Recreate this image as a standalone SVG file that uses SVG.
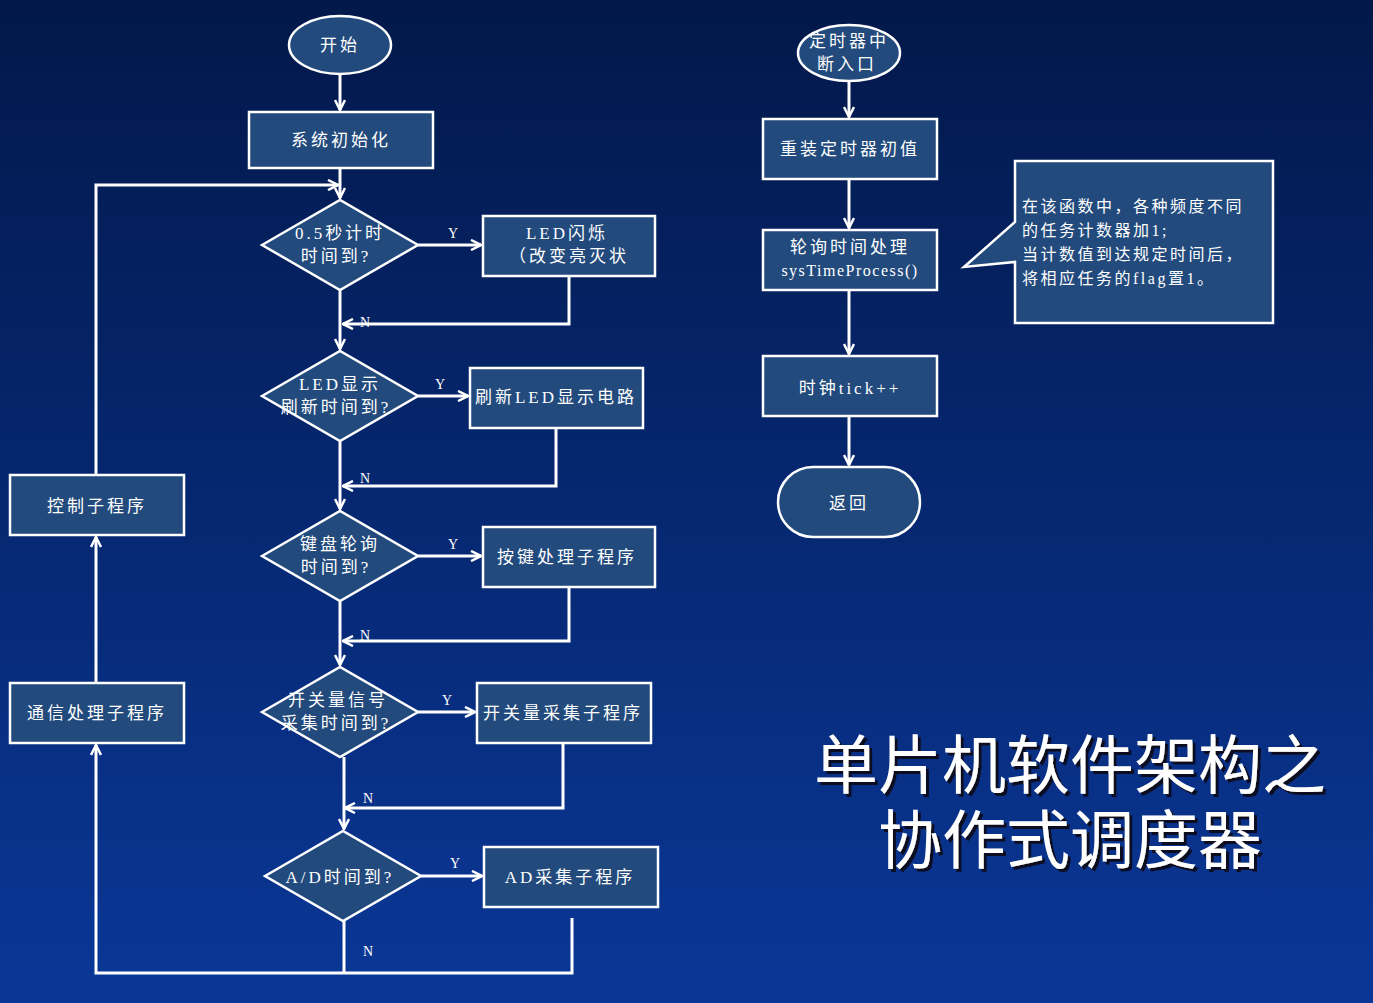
<svg xmlns="http://www.w3.org/2000/svg" width="1373" height="1003" viewBox="0 0 1373 1003">
<defs>
<linearGradient id="bg" x1="0" y1="0" x2="0" y2="1"><stop offset="0" stop-color="#02184a"/><stop offset="1" stop-color="#0a3797"/></linearGradient>
<marker id="ar" viewBox="0 0 12 12" refX="11" refY="6" markerWidth="12" markerHeight="12" markerUnits="userSpaceOnUse" orient="auto"><path d="M1,1 L11,6 L1,11" fill="none" stroke="#fff" stroke-width="2.5"/></marker>
<filter id="sh" x="-10%" y="-20%" width="120%" height="140%"><feDropShadow dx="3" dy="3" stdDeviation="0.5" flood-color="#0a1020" flood-opacity="1"/></filter>
</defs>
<style>
.n{fill:#224a7d;stroke:#fff;stroke-width:2.5}
.t{fill:#fff;font-family:"Liberation Serif","Noto Sans CJK SC",serif;font-size:17px;letter-spacing:3px;text-anchor:middle}
.l{fill:#fff;font-family:"Liberation Serif",serif;font-size:14px}
#c path{fill:none;stroke:#fff;stroke-width:3}
.big{fill:#fff;font-family:"Noto Sans CJK SC",sans-serif;font-size:64px;text-anchor:middle}
</style>
<rect width="1373" height="1003" fill="url(#bg)"/>
<g id="c">
<path d="M340,74V110" marker-end="url(#ar)"/>
<path d="M340,168V198" marker-end="url(#ar)"/>
<path d="M418,245H481" marker-end="url(#ar)"/>
<path d="M340,290V349" marker-end="url(#ar)"/>
<path d="M569,276V324H343" marker-end="url(#ar)"/>
<path d="M418,396H468" marker-end="url(#ar)"/>
<path d="M340,441V509" marker-end="url(#ar)"/>
<path d="M556,428V486H343" marker-end="url(#ar)"/>
<path d="M418,556H481" marker-end="url(#ar)"/>
<path d="M340,601V665" marker-end="url(#ar)"/>
<path d="M569,587V641H343" marker-end="url(#ar)"/>
<path d="M418,712H475" marker-end="url(#ar)"/>
<path d="M344,757V829" marker-end="url(#ar)"/>
<path d="M563,743V808H345" marker-end="url(#ar)"/>
<path d="M421,876H482" marker-end="url(#ar)"/>
<path d="M344,921V973"/>
<path d="M572,918V973H96V745" marker-end="url(#ar)"/>
<path d="M96,683V537" marker-end="url(#ar)"/>
<path d="M96,475V185H338" marker-end="url(#ar)"/>
<path d="M849,81V117" marker-end="url(#ar)"/>
<path d="M849,179V228" marker-end="url(#ar)"/>
<path d="M849,290V354" marker-end="url(#ar)"/>
<path d="M849,416V465" marker-end="url(#ar)"/>
</g>
<g id="labels">
<text class="l" x="448" y="238">Y</text><text class="l" x="360" y="327">N</text>
<text class="l" x="435" y="389">Y</text><text class="l" x="360" y="483">N</text>
<text class="l" x="448" y="549">Y</text><text class="l" x="360" y="640">N</text>
<text class="l" x="442" y="705">Y</text><text class="l" x="363" y="803">N</text>
<text class="l" x="450" y="868">Y</text><text class="l" x="363" y="956">N</text>
</g>
<g id="start"><ellipse class="n" cx="340" cy="45" rx="51" ry="29"/><text class="t" x="340" y="51">开始</text></g>
<g id="init"><rect class="n" x="249" y="112" width="184" height="56"/><text class="t" x="341" y="146">系统初始化</text></g>
<g id="d1"><path class="n" d="M262,245L340,200L418,245L340,290Z"/><text class="t" x="340" y="239">0.5秒计时</text><text class="t" x="336" y="262">时间到?</text></g>
<g id="r1"><rect class="n" x="483" y="216" width="172" height="60"/><text class="t" x="567" y="239">LED闪烁</text><text class="t" x="569" y="262">（改变亮灭状</text></g>
<g id="d2"><path class="n" d="M262,396L340,351L418,396L340,441Z"/><text class="t" x="340" y="390">LED显示</text><text class="t" x="336" y="413">刷新时间到?</text></g>
<g id="r2"><rect class="n" x="470" y="368" width="173" height="60"/><text class="t" x="556" y="403">刷新LED显示电路</text></g>
<g id="d3"><path class="n" d="M262,556L340,511L418,556L340,601Z"/><text class="t" x="340" y="550">键盘轮询</text><text class="t" x="336" y="573">时间到?</text></g>
<g id="r3"><rect class="n" x="483" y="527" width="172" height="60"/><text class="t" x="567" y="563">按键处理子程序</text></g>
<g id="d4"><path class="n" d="M262,712L340,667L418,712L340,757Z"/><text class="t" x="338" y="706">开关量信号</text><text class="t" x="336" y="729">采集时间到?</text></g>
<g id="r4"><rect class="n" x="477" y="683" width="174" height="60"/><text class="t" x="563" y="719">开关量采集子程序</text></g>
<g id="d5"><path class="n" d="M265,876L343,831L421,876L343,921Z"/><text class="t" x="340" y="883">A/D时间到?</text></g>
<g id="r5"><rect class="n" x="484" y="847" width="174" height="60"/><text class="t" x="570" y="883">AD采集子程序</text></g>
<g id="comm"><rect class="n" x="10" y="683" width="174" height="60"/><text class="t" x="97" y="719">通信处理子程序</text></g>
<g id="ctrl"><rect class="n" x="10" y="475" width="174" height="60"/><text class="t" x="97" y="512">控制子程序</text></g>
<g id="isr"><ellipse class="n" cx="849" cy="53" rx="51" ry="28"/><text class="t" x="849" y="47">定时器中</text><text class="t" x="847" y="70">断入口</text></g>
<g id="reload"><rect class="n" x="763" y="119" width="174" height="60"/><text class="t" x="850" y="155">重装定时器初值</text></g>
<g id="poll"><rect class="n" x="763" y="230" width="174" height="60"/><text class="t" x="850" y="253">轮询时间处理</text><text class="t" x="850" y="276" style="letter-spacing:1.5px;font-size:16px">sysTimeProcess()</text></g>
<g id="tick"><rect class="n" x="763" y="356" width="174" height="60"/><text class="t" x="850" y="394">时钟tick++</text></g>
<g id="ret"><rect class="n" x="778" y="467" width="142" height="70" rx="35"/><text class="t" x="849" y="509">返回</text></g>
<g id="note"><path class="n" stroke-width="2" d="M1015,161H1273V323H1015V262L964,267L1015,222Z"/>
<text class="t" style="text-anchor:start;font-size:16px;letter-spacing:2.5px" x="1022" y="212">在该函数中，各种频度不同</text>
<text class="t" style="text-anchor:start;font-size:16px;letter-spacing:2.5px" x="1022" y="236">的任务计数器加1;</text>
<text class="t" style="text-anchor:start;font-size:16px;letter-spacing:2.5px" x="1022" y="260">当计数值到达规定时间后，</text>
<text class="t" style="text-anchor:start;font-size:16px;letter-spacing:2.5px" x="1022" y="284">将相应任务的flag置1。</text></g>
<g id="title" filter="url(#sh)">
<text class="big" x="1070" y="788">单片机软件架构之</text>
<text class="big" x="1070" y="863">协作式调度器</text>
</g>
</svg>
